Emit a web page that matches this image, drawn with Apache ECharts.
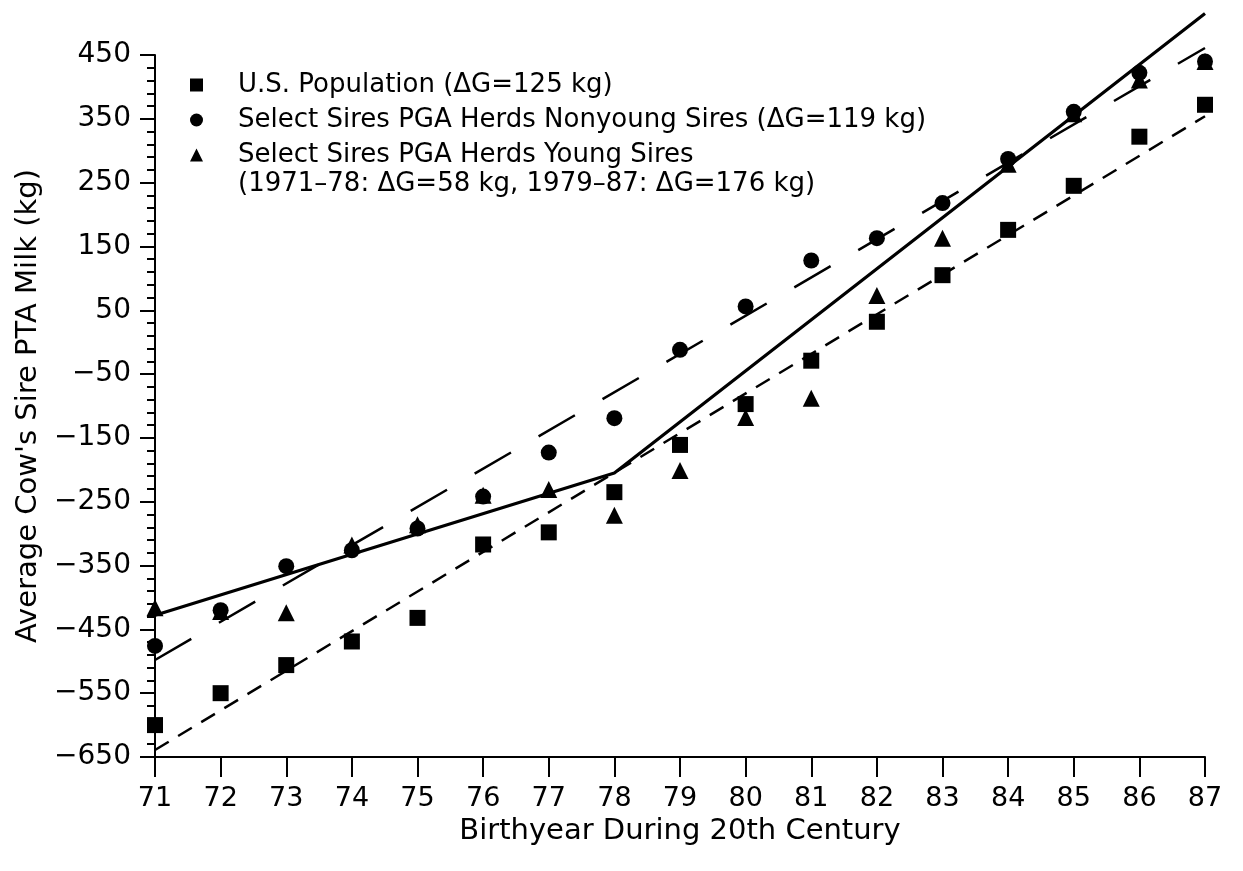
<!DOCTYPE html>
<html>
<head>
<meta charset="utf-8">
<script src="https://cdn.jsdelivr.net/npm/echarts@6/dist/echarts.min.js"></script>
<style>
html,body{margin:0;padding:0;background:#fff;}
#chart{width:1243px;height:871px;}
</style>
</head>
<body>
<div id="chart"></div>
<script>
// ---- data ----
const years = [71,72,73,74,75,76,77,78,79,80,81,82,83,84,85,86,87];
const usPopulation = [-600,-550,-506,-469,-432,-317,-298,-235,-161,-97,-29,32,105,176,245,322,372];
const nonyoungSires = [-476,-420,-351,-326,-292,-242,-173,-119,-12,56,128,163,218,287,361,422,440];
const youngSires = [-416,-422,-424,-318,-286,-240,-231,-271,-201,-118,-88,73,163,279,358,411,440];
// regression lines (endpoints / breakpoint)
const usFitX = [71,87];
const usFitY = [-639,354];
const nonyoungFitX = [71,87];
const nonyoungFitY = [-498,461];
const youngFitX = [71,78,87];
const youngFitY = [-428,-205,515];
const seriesNames = [
  'U.S. Population (\u0394G=125 kg)',
  'Select Sires PGA Herds Nonyoung Sires (\u0394G=119 kg)',
  'Select Sires PGA Herds Young Sires'
];
const youngNote = '(1971\u201378: \u0394G=58 kg, 1979\u201387: \u0394G=176 kg)';
const xTitle = 'Birthyear During 20th Century';
const yTitle = "Average Cow's Sire PTA Milk (kg)";

const pairs = (xs, ys) => xs.map((x, i) => [x, ys[i]]);
const FONT = 'DejaVu Sans';

const chart = echarts.init(document.getElementById('chart'), null, {renderer: 'canvas'});
chart.setOption({
  backgroundColor: '#ffffff',
  animation: false,
  grid: {left: 155, right: 38, top: 55, bottom: 114, containLabel: false},
  legend: {
    data: seriesNames.map(n => ({name: n})),
    orient: 'vertical',
    left: 185,
    top: 67,
    itemGap: 9,
    itemWidth: 13,
    itemHeight: 13,
    textStyle: {fontFamily: FONT, fontSize: 26, color: '#000', padding: [0,0,0,30]},
    selectedMode: false
  },
  graphic: [{
    type: 'text',
    left: 238,
    top: 171,
    style: {text: youngNote, font: '26px "DejaVu Sans"', fill: '#000'}
  }],
  xAxis: {
    type: 'value',
    min: 71, max: 87, interval: 1,
    name: xTitle,
    nameLocation: 'middle',
    nameGap: 56,
    nameTextStyle: {fontFamily: FONT, fontSize: 29, color: '#000'},
    axisLine: {show: true, onZero: false, lineStyle: {color: '#000', width: 2}},
    axisTick: {show: true, inside: false, length: 20, lineStyle: {color: '#000', width: 2}},
    axisLabel: {fontFamily: FONT, fontSize: 27, color: '#000', margin: 28},
    splitLine: {show: false}
  },
  yAxis: {
    type: 'value',
    min: -650, max: 450, interval: 100,
    name: yTitle,
    nameLocation: 'middle',
    nameGap: 110,
    nameRotate: 90,
    nameTextStyle: {fontFamily: FONT, fontSize: 29, color: '#000'},
    axisLine: {show: true, onZero: false, lineStyle: {color: '#000', width: 2}},
    axisTick: {show: true, inside: false, length: 15, lineStyle: {color: '#000', width: 2}},
    minorTick: {show: true, splitNumber: 5, length: 8, lineStyle: {color: '#000', width: 2}},
    axisLabel: {fontFamily: FONT, fontSize: 28, color: '#000', margin: 24,
      formatter: v => String(v).replace('-', '\u2212')},
    splitLine: {show: false},
    minorSplitLine: {show: false}
  },
  series: [
    {
      name: 'usFit', type: 'line', data: pairs(usFitX, usFitY), symbol: 'none', clip: false,
      lineStyle: {color: '#000', width: 2.5, type: [16, 11]}, z: 1
    },
    {
      name: 'nonyoungFit', type: 'line', data: pairs(nonyoungFitX, nonyoungFitY), symbol: 'none', clip: false,
      lineStyle: {color: '#000', width: 2.5, type: [42, 32]}, z: 1
    },
    {
      name: 'youngFit', type: 'line', data: pairs(youngFitX, youngFitY), symbol: 'none', clip: false,
      lineStyle: {color: '#000', width: 3.2, type: 'solid'}, z: 1
    },
    {
      name: seriesNames[0], type: 'scatter', data: pairs(years, usPopulation),
      symbol: 'rect', symbolSize: 16, itemStyle: {color: '#000', opacity: 1}, clip: false, z: 3
    },
    {
      name: seriesNames[1], type: 'scatter', data: pairs(years, nonyoungSires),
      symbol: 'circle', symbolSize: 16, itemStyle: {color: '#000', opacity: 1}, clip: false, z: 3
    },
    {
      name: seriesNames[2], type: 'scatter', data: pairs(years, youngSires),
      symbol: 'triangle', symbolSize: 17, itemStyle: {color: '#000', opacity: 1}, clip: false, z: 3
    }
  ]
});
</script>
</body>
</html>
